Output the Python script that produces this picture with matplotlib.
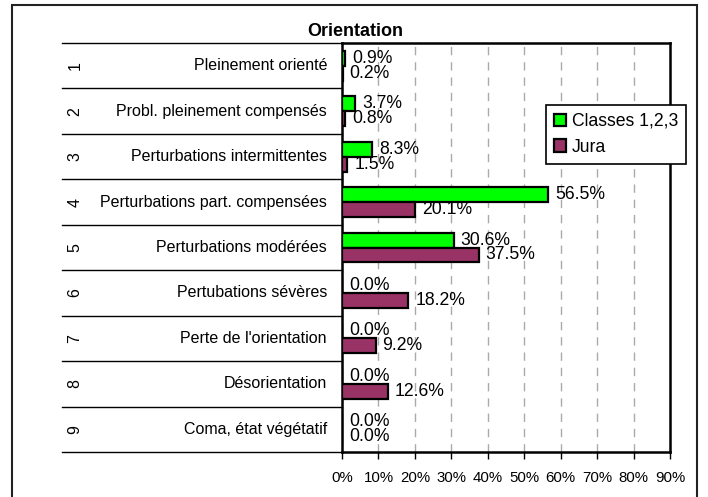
import matplotlib
matplotlib.use("Agg")
import matplotlib.pyplot as plt
import matplotlib.transforms as mtransforms
from matplotlib.patches import Rectangle
import numpy as np

plt.rcParams['font.family'] = ['Liberation Sans', 'DejaVu Sans']

title = "Orientation"
numbers = ["1", "2", "3", "4", "5", "6", "7", "8", "9"]
categories = ["Pleinement orienté", "Probl. pleinement compensés",
              "Perturbations intermittentes", "Perturbations part. compensées",
              "Perturbations modérées", "Pertubations sévères",
              "Perte de l'orientation", "Désorientation", "Coma, état végétatif"]
series_names = ["Classes 1,2,3", "Jura"]
classes = [0.9, 3.7, 8.3, 56.5, 30.6, 0.0, 0.0, 0.0, 0.0]
jura = [0.2, 0.8, 1.5, 20.1, 37.5, 18.2, 9.2, 12.6, 0.0]
xticks = [0, 10, 20, 30, 40, 50, 60, 70, 80, 90]

W, H = 708, 497
fig = plt.figure(figsize=(W / 100, H / 100), dpi=100)
ax = fig.add_axes([342 / W, 1 - 452 / H, 328 / W, 409 / H])

y = np.arange(len(categories))
bh = 0.33
b1 = ax.barh(y - bh / 2, [v / 100 for v in classes], height=bh, color='#00FF00',
             edgecolor='black', linewidth=1.6, label=series_names[0], zorder=3)
b2 = ax.barh(y + bh / 2, [v / 100 for v in jura], height=bh, color='#993366',
             edgecolor='black', linewidth=1.6, label=series_names[1], zorder=3)

for vals, off in ((classes, -bh / 2), (jura, bh / 2)):
    for i, v in enumerate(vals):
        ax.annotate(f"{v:.1f}%", xy=(v / 100, i + off), xytext=(5, 0),
                    textcoords='offset points', va='center', ha='left',
                    fontsize=12.7, zorder=4)

ax.set_xlim(0, 0.9)
ax.set_ylim(len(categories) - 0.5, -0.5)
ax.set_xticks([t / 100 for t in xticks])
ax.set_xticklabels([f"{t}%" for t in xticks], fontsize=10.8)
ax.tick_params(axis='x', direction='out', length=5, width=1, pad=9)
ax.set_yticks([])
for t in xticks[1:-1]:
    ax.axvline(t / 100, color='#aaaaaa', linestyle=(0, (6, 5)), linewidth=1, zorder=1)
for s in ax.spines.values():
    s.set_linewidth(1.8)

# category table on the left
trans = mtransforms.blended_transform_factory(ax.transAxes, ax.transData)
x_left = (62 - 342) / 328
for b in np.arange(len(categories) + 1) - 0.5:
    ax.plot([x_left, 0], [b, b], color='black', linewidth=1.0, transform=trans,
            clip_on=False)
x_name = (327 - 342) / 328
x_num = (75 - 342) / 328
for i, (n, c) in enumerate(zip(numbers, categories)):
    ax.text(x_name, i, c, transform=trans, ha='right', va='center', fontsize=11.5)
    ax.text(x_num, i, n, transform=trans, ha='center', va='center', fontsize=11.5,
            rotation=90)

fig.text(355 / W, 1 - 32 / H, title, ha='center', va='center', fontsize=13,
         fontweight='bold')

leg = ax.legend(loc='upper left', bbox_to_anchor=(546 / W, 1 - 105 / H),
                bbox_transform=fig.transFigure, fontsize=12.7, frameon=True,
                fancybox=False, edgecolor='black', framealpha=1,
                handlelength=0.7, handleheight=0.7, handletextpad=0.3,
                borderpad=0.45, labelspacing=0.5, borderaxespad=0)
leg.get_frame().set_linewidth(1.2)

# outer chart border
fig.patches.append(Rectangle((12 / W, -0.05), (697 - 12) / W, 1.05 - 5 / H,
                             transform=fig.transFigure, fill=False,
                             edgecolor='#222222', linewidth=1.5))

fig.savefig("out.png", dpi=100)
